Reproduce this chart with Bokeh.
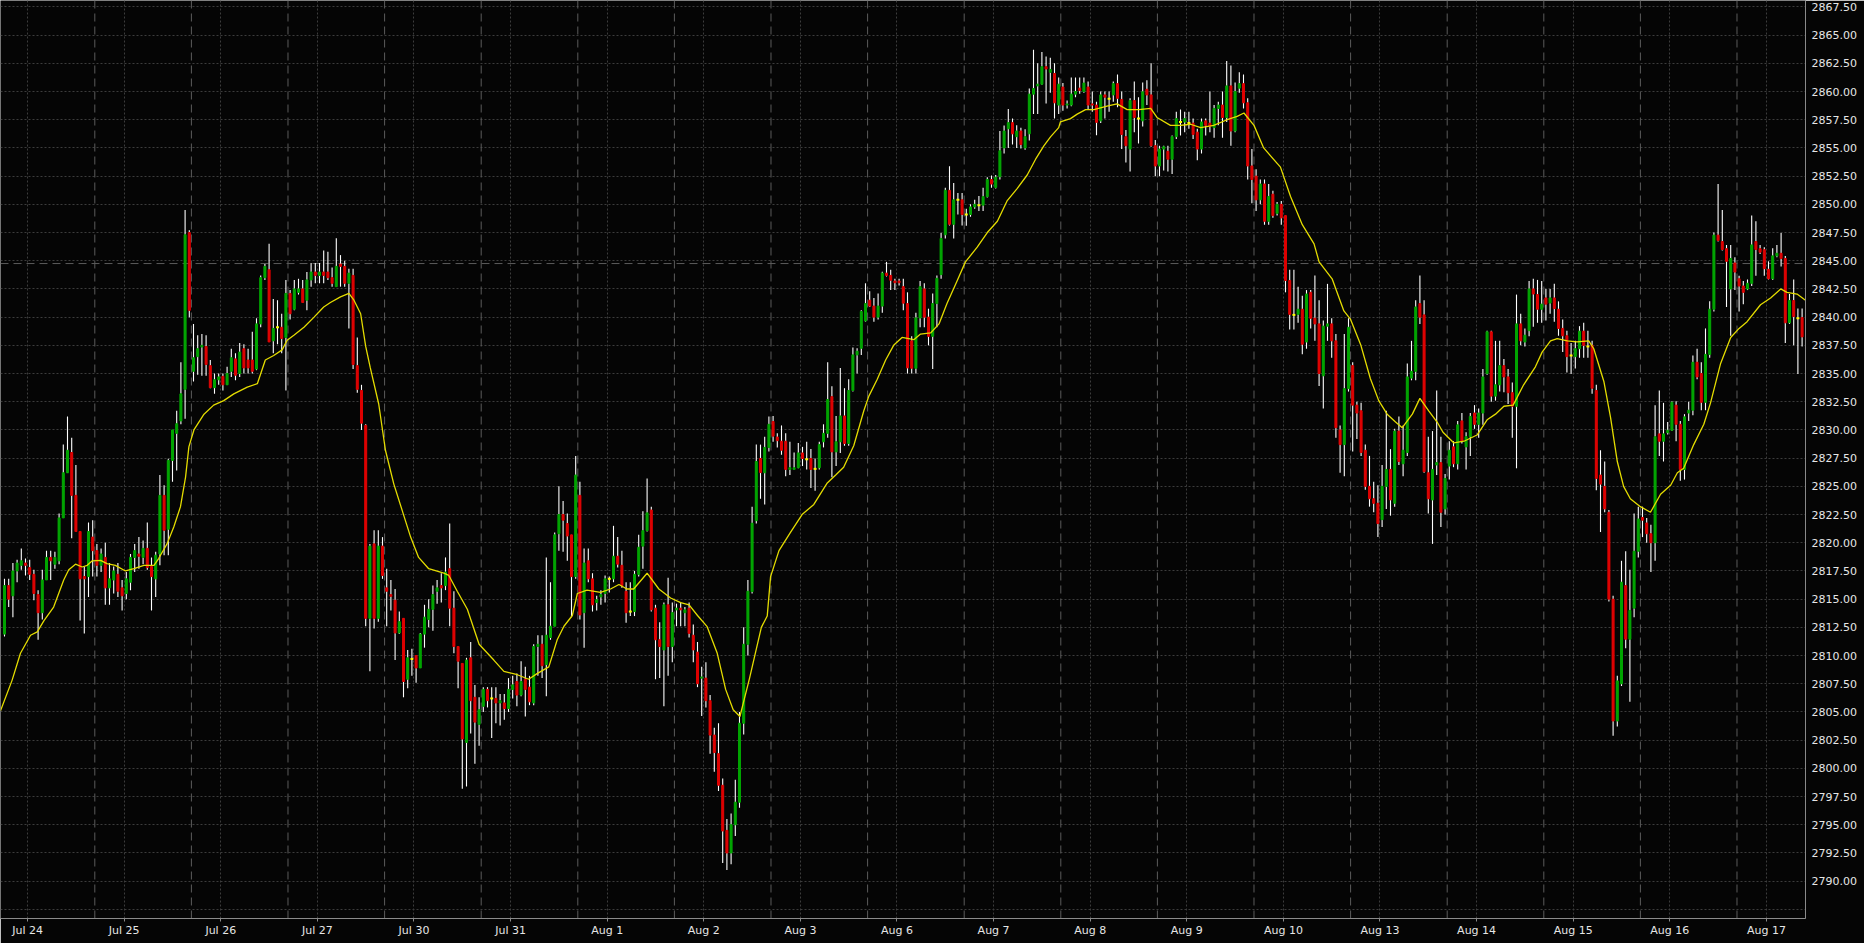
from bokeh.plotting import figure
from bokeh.models import FixedTicker, Span, ColumnDataSource, NumeralTickFormatter, Range1d
from bokeh.embed import file_html
from bokeh.resources import INLINE

# ---------------- data (hourly bars, 23 bars per session) ----------------
opens = [
2811.9,2816.2,2815.3,2817.5,2818.0,2818.2,2817.8,2817.2,2815.4,2813.8,
2816.7,2818.7,2818.1,2818.4,2822.2,2826.2,2828.0,2824.2,2821.0,2817.0,
2817.0,2820.5,2819.3,2818.0,2818.7,2816.0,2816.7,2817.2,2816.0,2815.5,
2816.5,2818.7,2819.0,2818.7,2819.5,2817.9,2816.8,2819.0,2824.2,2821.2,
2827.3,2829.7,2830.8,2833.6,2847.5,2835.2,2836.5,2837.35,2837.4,2835.7,
2833.75,2834.45,2834.75,2834.0,2835.2,2836.3,2835.0,2837.2,2836.2,2836.2,
2835.4,2839.4,2843.5,2844.2,2837.9,2839.1,2839.1,2838.2,2842.1,2840.7,
2842.2,2842.5,2841.5,2843.3,2844.0,2843.7,2844.0,2844.0,2843.5,2842.7,
2844.7,2844.5,2843.0,2843.7,2835.7,2833.5,2830.4,2813.3,2819.9,2813.3,
2819.7,2816.0,2815.4,2814.9,2812.0,2813.3,2807.9,2809.7,2810.0,2808.9,
2811.9,2813.2,2814.1,2815.7,2816.2,2816.2,2817.7,2814.2,2810.8,2809.3,
2802.3,2809.8,2806.3,2803.9,2805.5,2807.0,2806.2,2806.2,2805.8,2805.8,
2805.3,2807.0,2807.7,2806.5,2807.9,2807.2,2805.8,2810.8,2811.0,2809.2,
2811.6,2812.6,2820.8,2822.5,2821.7,2820.7,2817.0,2824.2,2813.8,2818.4,
2816.8,2814.7,2815.2,2815.5,2816.8,2816.8,2818.8,2818.0,2815.7,2813.9,
2813.9,2817.2,2819.7,2821.07,2822.9,2814.2,2811.4,2810.5,2814.5,2810.8,
2814.05,2814.2,2813.8,2814.2,2811.8,2810.3,2808.0,2808.0,2806.0,2802.95,
2801.3,2798.5,2794.5,2792.5,2795.0,2797.0,2804.0,2811.0,2815.67,2821.96,
2827.47,2826.2,2828.45,2830.75,2829.37,2829.0,2829.0,2826.5,2826.5,2826.65,
2827.96,2827.4,2827.47,2826.55,2826.65,2828.95,2829.7,2832.95,2828.06,2828.95,
2831.24,2828.8,2833.5,2836.65,2837.24,2839.66,2841.5,2840.98,2840.0,2840.98,
2843.9,2843.7,2843.2,2843.2,2842.7,2841.2,2837.9,2835.47,2839.93,2842.5,
2840.0,2838.3,2841.2,2843.77,2847.3,2851.24,2848.23,2850.4,2850.4,2849.1,
2849.1,2849.77,2849.93,2849.93,2850.68,2852.2,2851.5,2852.45,2855.0,2856.7,
2857.24,2856.0,2856.5,2855.0,2856.25,2859.77,2860.5,2860.65,2862.2,2861.7,
2861.6,2858.8,2860.4,2858.8,2858.8,2859.77,2860.3,2860.0,2860.4,2858.9,
2858.8,2857.4,2859.7,2859.37,2859.7,2860.7,2859.3,2856.0,2854.9,2859.2,
2857.6,2857.4,2860.2,2859.7,2855.2,2853.4,2854.9,2854.7,2854.0,2856.0,
2857.3,2857.3,2857.2,2857.2,2856.4,2854.9,2857.4,2857.2,2856.8,2858.5,
2858.8,2857.7,2860.5,2856.5,2860.3,2860.7,2859.0,2853.4,2852.5,2850.4,
2851.8,2848.5,2850.9,2849.2,2850.0,2849.0,2843.25,2840.2,2840.25,2840.7,
2837.8,2842.2,2839.9,2839.4,2834.8,2839.2,2839.4,2837.9,2830.0,2828.7,
2833.66,2835.7,2832.2,2831.7,2828.2,2825.0,2823.9,2823.5,2822.05,2825.0,
2826.5,2823.5,2829.9,2827.0,2828.0,2834.6,2835.2,2841.2,2840.2,2826.2,
2823.8,2826.9,2827.1,2823.0,2826.8,2828.5,2827.0,2830.8,2828.5,2829.4,
2831.5,2830.5,2831.5,2835.0,2838.7,2833.0,2834.0,2835.7,2834.7,2833.3,
2832.1,2839.4,2837.8,2838.8,2842.5,2842.0,2840.7,2841.7,2841.25,2841.7,
2840.7,2839.0,2838.35,2836.6,2836.5,2837.2,2838.76,2837.4,2837.5,2833.5,
2826.0,2825.0,2822.7,2815.0,2804.2,2807.5,2816.2,2811.45,2814.2,2819.25,
2822.24,2821.75,2820.8,2820.0,2829.65,2829.0,2829.75,2829.97,2832.2,2830.5,
2826.5,2831.5,2831.75,2836.0,2835.0,2832.45,2836.7,2840.7,2847.27,2846.7,
2846.07,2842.5,2844.8,2843.4,2842.76,2842.5,2843.0,2846.7,2846.07,2845.98,
2844.24,2843.4,2845.43,2845.66,2845.2,2839.5,2841.47,2839.9,2839.96,
]
highs = [
2816.8,2816.8,2818.2,2818.5,2819.5,2818.6,2818.5,2817.6,2815.8,2817.6,
2819.3,2819.3,2819.2,2822.6,2828.7,2831.2,2829.3,2826.9,2821.0,2817.9,
2821.8,2822.0,2819.9,2819.5,2820.0,2818.2,2817.9,2818.2,2816.7,2817.4,
2819.0,2819.9,2820.5,2820.2,2821.8,2818.7,2819.2,2826.0,2825.1,2827.45,
2830.0,2831.7,2836.0,2849.5,2847.7,2839.4,2838.4,2838.5,2838.4,2836.2,
2835.0,2835.0,2835.0,2835.6,2837.2,2836.8,2837.7,2837.6,2837.2,2838.7,
2839.9,2843.7,2844.7,2846.5,2841.6,2841.5,2840.3,2843.3,2842.4,2843.3,
2843.4,2843.3,2844.0,2844.8,2844.8,2844.8,2845.9,2845.8,2844.4,2847.0,
2845.5,2845.0,2844.3,2844.3,2838.2,2834.0,2830.5,2819.9,2821.1,2821.1,
2820.5,2817.7,2816.7,2815.9,2813.9,2813.3,2810.5,2810.6,2810.0,2812.0,
2814.5,2815.0,2816.2,2816.7,2817.3,2818.7,2821.7,2815.7,2810.8,2809.3,
2809.8,2811.2,2807.4,2806.3,2807.2,2807.2,2807.2,2807.2,2806.6,2806.6,
2808.0,2808.2,2808.4,2809.5,2809.0,2808.2,2811.0,2811.8,2811.8,2818.7,
2816.5,2820.9,2825.0,2823.7,2822.6,2820.7,2827.7,2825.4,2819.5,2819.5,
2817.3,2815.3,2815.8,2817.1,2817.0,2821.5,2820.5,2819.3,2816.5,2816.5,
2817.5,2820.7,2822.8,2825.7,2823.2,2814.5,2812.95,2814.7,2816.9,2814.7,
2814.6,2814.7,2814.3,2814.7,2812.75,2811.2,2809.0,2809.4,2806.5,2803.6,
2804.0,2799.1,2795.5,2796.0,2799.0,2805.0,2812.5,2816.7,2823.2,2828.7,
2828.7,2829.4,2831.2,2831.24,2829.7,2830.4,2829.7,2828.95,2828.0,2828.85,
2828.5,2828.95,2828.3,2827.47,2828.95,2830.5,2836.0,2833.87,2831.24,2835.5,
2833.7,2834.5,2837.3,2837.24,2840.6,2843.0,2842.3,2841.7,2842.1,2844.03,
2844.9,2844.2,2843.4,2843.4,2843.4,2842.2,2838.3,2840.4,2843.2,2843.0,
2840.75,2842.1,2843.7,2847.47,2851.47,2853.37,2851.9,2851.0,2851.0,2849.6,
2850.0,2850.4,2850.75,2851.47,2852.4,2852.55,2852.6,2856.5,2856.98,2858.46,
2857.6,2857.0,2856.8,2856.65,2860.26,2863.7,2862.5,2863.5,2863.1,2863.0,
2862.5,2861.24,2860.75,2859.2,2861.24,2861.24,2861.24,2861.24,2860.9,2860.0,
2859.1,2860.0,2860.0,2860.0,2860.9,2861.5,2860.0,2856.6,2859.4,2860.9,
2859.5,2860.8,2861.0,2862.5,2855.7,2855.2,2855.2,2855.2,2856.1,2858.2,
2858.4,2858.2,2858.2,2857.6,2856.7,2857.6,2857.6,2860.0,2858.8,2859.1,
2860.0,2862.7,2862.3,2860.8,2861.7,2861.5,2859.4,2854.9,2853.1,2852.2,
2852.2,2851.8,2851.2,2850.2,2850.3,2849.0,2844.2,2844.2,2842.7,2841.9,
2842.4,2842.4,2843.7,2841.5,2839.7,2842.95,2839.9,2838.5,2830.4,2838.5,
2839.9,2836.0,2832.5,2832.4,2828.7,2827.7,2825.4,2825.1,2826.9,2831.7,
2828.3,2830.1,2831.2,2830.4,2835.9,2837.9,2841.5,2843.7,2841.5,2829.4,
2829.9,2833.5,2829.4,2826.1,2829.0,2829.0,2830.8,2831.5,2829.8,2831.5,
2832.2,2831.9,2835.4,2838.8,2838.8,2837.9,2837.9,2836.3,2835.4,2834.2,
2842.0,2840.3,2839.0,2843.2,2843.4,2843.3,2843.2,2842.5,2842.5,2842.95,
2841.4,2839.8,2838.8,2837.7,2837.9,2839.2,2839.5,2838.8,2837.9,2834.0,
2828.2,2827.2,2822.9,2815.3,2808.2,2818.4,2819.25,2817.6,2822.6,2823.2,
2823.2,2822.2,2821.6,2832.2,2833.5,2832.4,2830.7,2832.55,2832.55,2830.8,
2831.4,2832.5,2836.6,2837.2,2836.0,2839.0,2841.4,2847.5,2851.8,2849.5,
2846.4,2846.4,2845.3,2843.66,2843.2,2843.34,2849.0,2848.5,2846.4,2846.2,
2844.95,2846.1,2846.4,2847.46,2845.43,2842.05,2843.34,2840.76,2840.76,
]
lows = [
2811.7,2814.3,2813.4,2816.5,2817.6,2817.1,2816.7,2814.9,2811.4,2813.2,
2816.7,2816.7,2817.7,2818.1,2822.2,2826.2,2820.4,2821.0,2813.1,2811.95,
2815.2,2817.0,2817.0,2817.4,2814.5,2814.5,2815.5,2815.2,2814.0,2815.0,
2815.8,2817.4,2817.7,2818.1,2817.6,2814.0,2815.2,2818.0,2818.9,2818.9,
2825.4,2826.4,2830.5,2831.0,2840.0,2834.3,2834.9,2834.8,2834.8,2833.7,
2833.2,2834.0,2833.5,2834.0,2834.7,2834.4,2834.7,2835.0,2835.0,2835.0,
2835.3,2839.1,2843.3,2837.8,2836.8,2837.6,2836.8,2833.5,2839.8,2840.6,
2842.0,2841.3,2840.6,2842.7,2843.0,2843.0,2843.0,2843.3,2842.7,2842.7,
2842.7,2842.7,2839.0,2835.4,2833.3,2830.0,2812.6,2808.6,2812.4,2813.0,
2816.8,2812.6,2814.0,2809.6,2811.9,2806.3,2807.1,2808.2,2807.6,2808.9,
2810.7,2812.5,2812.2,2814.6,2814.7,2815.8,2812.6,2810.2,2807.1,2798.2,
2798.4,2803.1,2800.4,2802.0,2805.0,2805.4,2802.7,2804.0,2803.8,2804.3,
2805.0,2806.2,2805.5,2806.4,2804.6,2805.6,2805.6,2808.2,2808.0,2806.4,
2811.4,2812.6,2819.3,2819.2,2818.4,2813.4,2816.8,2813.2,2810.7,2816.5,
2813.9,2814.0,2814.5,2814.7,2815.6,2816.5,2817.8,2816.0,2812.9,2813.5,
2813.5,2817.0,2817.7,2821.0,2813.9,2807.9,2808.0,2805.5,2808.2,2809.4,
2812.6,2812.6,2812.6,2811.6,2809.4,2807.2,2804.65,2805.4,2801.3,2799.7,
2798.0,2791.6,2791.0,2791.5,2794.0,2796.5,2803.0,2810.0,2815.5,2821.7,
2823.9,2823.4,2828.1,2828.95,2828.45,2827.8,2825.9,2826.0,2826.5,2826.6,
2826.8,2826.5,2824.85,2824.6,2826.5,2828.45,2829.3,2825.8,2826.8,2827.96,
2828.6,2828.6,2833.4,2835.0,2836.65,2839.6,2840.9,2839.6,2839.8,2840.4,
2843.6,2842.4,2842.4,2842.8,2840.6,2835.0,2835.0,2835.0,2839.1,2839.1,
2837.5,2835.4,2839.1,2843.4,2846.98,2848.13,2846.98,2849.1,2848.13,2848.1,
2848.9,2849.6,2849.4,2849.4,2850.6,2851.47,2851.4,2852.2,2854.5,2855.0,
2855.3,2855.0,2854.95,2854.85,2855.67,2858.0,2858.0,2860.6,2858.95,2859.9,
2857.6,2858.0,2858.3,2858.5,2858.7,2859.5,2859.8,2859.9,2858.4,2858.2,
2856.13,2857.2,2857.6,2858.2,2859.1,2858.6,2854.9,2853.7,2852.9,2856.4,
2855.4,2856.9,2858.8,2855.1,2852.5,2852.5,2853.0,2852.9,2852.7,2855.8,
2856.1,2856.4,2856.7,2855.8,2853.9,2854.5,2856.1,2856.4,2855.9,2857.0,
2855.9,2857.3,2855.2,2856.4,2859.9,2858.5,2852.2,2850.1,2849.4,2850.0,
2848.2,2848.2,2848.8,2849.0,2848.2,2842.2,2838.9,2838.9,2839.5,2836.7,
2837.2,2839.0,2837.9,2833.9,2831.9,2837.9,2836.4,2829.3,2826.2,2825.9,
2833.4,2828.1,2829.2,2827.7,2824.7,2823.2,2822.7,2820.5,2821.4,2823.0,
2822.4,2823.2,2826.9,2825.9,2827.7,2834.4,2834.4,2839.4,2826.2,2822.6,
2819.9,2826.0,2821.4,2822.5,2825.6,2826.7,2826.5,2828.8,2826.5,2827.7,
2830.1,2829.3,2830.45,2834.9,2832.5,2832.6,2833.4,2833.35,2832.3,2829.3,
2826.6,2837.5,2837.4,2838.3,2839.15,2839.5,2839.5,2839.7,2840.3,2839.6,
2838.35,2836.9,2835.1,2834.96,2835.45,2836.4,2836.4,2836.4,2833.2,2824.66,
2820.95,2822.7,2814.8,2802.9,2803.7,2807.3,2810.65,2805.9,2813.4,2818.7,
2820.5,2820.0,2817.4,2818.4,2827.7,2827.2,2829.6,2829.9,2829.0,2825.5,
2825.6,2830.8,2831.3,2834.5,2831.75,2831.75,2836.4,2840.5,2846.7,2845.9,
2840.9,2838.35,2842.4,2840.5,2841.15,2842.4,2842.76,2843.66,2845.6,2843.66,
2843.34,2843.3,2845.3,2844.5,2837.7,2839.4,2837.5,2834.96,2837.4,
]
closes = [
2816.2,2815.0,2817.5,2818.2,2818.4,2818.0,2817.2,2815.5,2813.8,2816.7,
2818.7,2818.4,2818.7,2822.2,2826.2,2828.2,2824.2,2821.0,2816.8,2816.8,
2821.0,2819.3,2818.0,2819.0,2816.0,2816.8,2817.5,2815.7,2815.3,2816.8,
2818.7,2819.3,2818.8,2819.5,2817.8,2817.0,2818.9,2824.2,2821.1,2827.3,
2830.0,2830.55,2833.2,2847.3,2840.6,2836.4,2837.2,2837.5,2835.8,2833.75,
2834.45,2834.7,2834.0,2835.0,2836.4,2834.85,2836.9,2835.5,2835.5,2835.2,
2839.4,2843.5,2844.5,2837.8,2839.0,2839.1,2838.1,2842.1,2840.3,2842.5,
2842.5,2841.3,2843.3,2844.0,2843.7,2844.0,2843.7,2843.5,2843.0,2844.5,
2844.5,2843.0,2843.9,2835.8,2833.6,2830.6,2813.3,2819.7,2813.3,2819.7,
2817.1,2815.7,2815.25,2812.0,2813.0,2807.7,2809.8,2809.7,2808.9,2811.9,
2813.4,2814.1,2815.4,2816.0,2816.0,2817.4,2814.2,2810.8,2809.5,2802.6,
2809.6,2806.0,2804.1,2805.2,2807.0,2806.0,2806.2,2805.8,2806.0,2805.3,
2807.0,2807.4,2806.5,2807.7,2807.0,2805.9,2810.8,2811.0,2809.1,2811.8,
2812.6,2820.7,2822.5,2822.0,2820.6,2817.0,2826.0,2813.6,2818.2,2816.8,
2814.5,2814.95,2815.4,2816.8,2816.8,2818.8,2818.1,2816.2,2813.8,2813.9,
2817.2,2819.6,2821.07,2822.65,2814.05,2811.4,2810.8,2814.5,2810.8,2813.8,
2814.2,2814.05,2814.05,2811.97,2810.5,2807.5,2808.1,2806.0,2802.95,2801.4,
2798.5,2794.45,2792.5,2795.0,2797.0,2804.0,2811.0,2815.7,2821.73,2827.2,
2826.22,2828.45,2830.5,2829.45,2829.05,2828.2,2826.5,2826.65,2826.65,2827.96,
2827.47,2827.4,2826.5,2826.55,2828.7,2829.7,2832.7,2828.06,2828.95,2831.24,
2828.8,2833.5,2836.65,2836.98,2840.5,2841.2,2840.98,2840.0,2840.98,2843.9,
2843.7,2843.27,2843.05,2843.05,2841.24,2835.5,2835.47,2839.93,2842.7,2840.0,
2838.3,2841.2,2843.44,2846.98,2851.24,2848.23,2850.4,2850.4,2849.1,2849.1,
2849.77,2850.0,2849.93,2850.68,2852.2,2851.8,2852.4,2854.75,2856.5,2857.24,
2856.25,2856.5,2855.3,2856.0,2859.77,2860.26,2860.65,2862.2,2862.0,2861.96,
2859.0,2860.65,2858.8,2858.9,2859.77,2860.0,2860.1,2860.75,2858.8,2858.8,
2857.27,2859.7,2859.5,2859.37,2860.7,2859.4,2856.2,2855.2,2859.2,2857.7,
2857.6,2859.97,2859.7,2855.2,2853.4,2854.9,2855.1,2854.0,2856.0,2857.6,
2857.3,2857.6,2857.2,2856.2,2854.9,2857.3,2857.0,2856.9,2858.5,2858.8,
2857.7,2860.5,2856.5,2860.0,2860.7,2859.0,2853.4,2852.2,2850.4,2851.8,
2848.5,2850.7,2849.0,2850.0,2848.8,2843.25,2840.25,2840.2,2840.7,2837.6,
2842.05,2839.9,2839.4,2835.0,2839.2,2839.4,2837.9,2830.2,2828.7,2833.66,
2839.1,2832.2,2831.5,2828.0,2825.0,2823.9,2823.5,2821.7,2825.0,2826.5,
2823.8,2829.9,2827.2,2828.2,2834.7,2835.2,2840.9,2840.0,2826.3,2823.9,
2826.5,2827.1,2822.7,2825.7,2828.2,2827.0,2830.45,2829.0,2829.4,2831.2,
2830.5,2831.5,2834.7,2838.7,2833.0,2834.0,2835.7,2834.7,2833.3,2832.1,
2839.4,2837.9,2838.4,2842.5,2842.05,2840.7,2841.15,2841.15,2841.7,2840.76,
2839.0,2838.35,2836.5,2836.6,2837.2,2838.76,2837.5,2837.4,2833.7,2825.7,
2825.2,2823.0,2815.0,2804.2,2807.75,2816.5,2811.45,2814.0,2819.25,2822.1,
2822.0,2820.8,2820.0,2829.4,2829.0,2829.65,2829.97,2832.45,2830.5,2826.5,
2831.16,2831.75,2836.0,2834.7,2832.45,2836.7,2840.7,2847.27,2846.8,2846.0,
2844.95,2845.2,2844.0,2842.76,2842.2,2843.0,2846.4,2846.0,2845.75,2844.3,
2843.4,2845.43,2845.66,2845.2,2839.5,2841.47,2840.05,2839.9,2838.25,
]

# moving average (bar position, value)
ma_pos = [
-0.95,1.8,3.8,6.2,7.8,9.4,11.7,14.1,15.3,16.9,18.5,19.7,20.9,22.9,24.4,26.4,28.8,30.8,
33.2,35.6,36.7,38.7,40.3,41.9,43.1,43.9,45.1,47.5,49.8,52.2,54.6,57.8,60.2,62.1,64.1,
66.1,67.3,68.9,71.3,73.7,76.0,77.6,80.0,82.0,83.2,84.8,86.0,87.1,89.1,90.7,92.7,94.7,
96.7,98.6,101.0,104.6,105.8,107.8,110.2,113.0,116.5,118.9,122.1,124.8,126.8,129.6,
131.6,133.2,135.2,136.4,138.7,141.9,144.3,146.3,148.2,149.8,153.0,155.8,158.6,161.0,
163.0,165.0,167.3,169.7,171.7,173.5,175.1,177.4,180.2,181.6,182.4,184.4,187.1,189.9,
192.7,195.9,197.9,199.8,202.2,204.6,205.8,207.8,209.8,211.7,213.7,215.3,216.5,218.1,
220.5,222.5,224.4,226.8,228.8,231.6,234.0,236.4,238.7,241.1,243.5,245.5,247.5,249.1,
251.0,251.4,253.8,255.4,257.4,259.4,262.5,264.9,267.3,270.1,272.9,274.4,277.6,280.0,
282.4,284.8,287.9,291.1,293.5,295.1,297.5,299.8,303.8,306.2,309.0,311.8,313.0,316.1,
318.9,320.5,322.9,325.2,327.2,329.2,331.2,332.8,335.2,337.0,339.1,341.1,342.5,345.1,
347.5,350.6,353.0,355.0,357.0,359.2,361.7,364.5,366.1,368.1,369.7,372.1,374.4,377.2,
378.4,380.8,382.4,384.0,385.5,387.1,389.5,391.9,394.3,396.7,398.3,399.8,402.2,404.6,
406.2,408.6,411.0,413.0,414.9,418.1,420.5,422.9,424.4,426.8,428.8,
]
ma_val = [
2805.1,2807.8,2810.2,2811.8,2812.1,2813.1,2814.3,2816.7,2817.6,2818.1,2817.85,2818.0,
2818.4,2818.44,2818.15,2818.0,2817.5,2817.7,2818.0,2818.0,2818.6,2819.9,2821.4,2823.2,
2825.8,2828.5,2830.0,2831.4,2832.2,2832.6,2833.2,2833.8,2834.1,2836.2,2836.6,2837.1,
2837.95,2838.4,2839.1,2840.0,2840.9,2841.3,2841.8,2842.1,2841.5,2840.3,2837.4,2835.5,
2832.3,2828.2,2825.2,2822.85,2820.5,2818.7,2817.7,2817.3,2817.1,2815.7,2814.1,2811.0,
2809.6,2808.6,2808.3,2807.9,2808.4,2809.0,2811.4,2812.6,2813.55,2815.5,2815.8,2815.6,
2815.9,2816.3,2815.9,2815.9,2817.3,2815.9,2815.1,2814.7,2814.5,2813.55,2812.56,2810.2,
2807.0,2805.2,2804.6,2808.0,2812.5,2813.5,2817.0,2819.3,2820.9,2822.5,2823.4,2825.3,
2826.0,2826.7,2828.6,2831.7,2833.0,2834.5,2836.2,2837.5,2838.2,2838.1,2838.0,2838.5,
2838.6,2839.4,2841.2,2843.2,2844.9,2846.2,2847.5,2848.5,2850.3,2851.4,2852.6,2854.0,
2855.2,2856.0,2856.8,2857.3,2857.6,2858.0,2858.4,2858.4,2858.7,2858.9,2858.4,2858.4,
2858.5,2857.7,2857.0,2857.0,2857.1,2856.8,2857.0,2857.5,2857.8,2858.1,2857.0,2855.0,
2853.3,2850.7,2848.2,2846.5,2844.9,2843.4,2840.55,2839.8,2837.56,2834.56,2832.6,2831.4,
2830.7,2830.2,2831.4,2832.8,2831.7,2830.7,2829.8,2828.85,2829.0,2829.55,2830.9,2831.4,
2832.1,2832.2,2834.0,2835.6,2836.9,2837.9,2838.1,2837.9,2837.8,2837.9,2837.2,2834.3,
2831.1,2827.2,2825.0,2823.9,2823.2,2822.7,2824.3,2825.1,2826.2,2826.6,2828.7,2830.5,
2832.4,2835.9,2838.2,2839.0,2839.6,2841.1,2841.7,2842.5,2842.2,2842.05,2841.5,
]

day_labels = ["Jul 24", "Jul 25", "Jul 26", "Jul 27", "Jul 30", "Jul 31", "Aug 1", "Aug 2",
              "Aug 3", "Aug 6", "Aug 7", "Aug 8", "Aug 9", "Aug 10", "Aug 13", "Aug 14",
              "Aug 15", "Aug 16", "Aug 17"]
price_line = 2844.75

BARS_PER_SESSION = 23
FIRST_LABEL_BAR = 5.5
FIRST_SESSION_BREAK = 21.5

# ---------------- figure ----------------
BG = "#050505"
FRAME_W, FRAME_H = 1805, 918
p = figure(frame_width=FRAME_W, frame_height=FRAME_H,
           x_range=Range1d(-0.952, 428.81), y_range=Range1d(2786.69, 2868.07),
           output_backend="svg", toolbar_location=None, y_axis_location="right",
           background_fill_color=BG, border_fill_color=BG,
           min_border_left=0, min_border_top=0, min_border_right=59, min_border_bottom=25)
p.outline_line_color = None

label_pos = [FIRST_LABEL_BAR + BARS_PER_SESSION * k for k in range(len(day_labels))]
breaks = [FIRST_SESSION_BREAK + BARS_PER_SESSION * k for k in range(18)]
grid_levels = [2787.5 + 2.5 * k for k in range(33)]
label_levels = [v for v in grid_levels if v >= 2790]

# grids (dotted)
p.xgrid.ticker = FixedTicker(ticks=label_pos)
p.ygrid.ticker = FixedTicker(ticks=grid_levels)
for g in (p.xgrid, p.ygrid):
    g.grid_line_color = "#3c3c3c"
    g.grid_line_dash = "2 2"
    g.grid_line_width = 1

# session separators (dashed)
for b in breaks:
    p.add_layout(Span(location=b, dimension="height", line_color="#5c5c5c",
                      line_dash="8 5", line_width=1, level="underlay"))
p.add_layout(Span(location=price_line, dimension="width", line_color="#5c5c5c",
                  line_dash="8 5", line_width=1, level="underlay"))
# left frame edge
p.add_layout(Span(location=-0.952, dimension="height", line_color="#6a6a6a", line_width=1))

# axes
xa = p.xaxis[0]
xa.ticker = FixedTicker(ticks=label_pos)
xa.major_label_overrides = {float(t): l for t, l in zip(label_pos, day_labels)}
ya = p.yaxis[0]
ya.ticker = FixedTicker(ticks=label_levels)
ya.formatter = NumeralTickFormatter(format="0.00")
for ax in (xa, ya):
    ax.axis_line_color = "#8a8a8a"
    ax.major_tick_line_color = "#8a8a8a"
    ax.minor_tick_line_color = None
    ax.major_tick_in = 0
    ax.major_label_text_font = "DejaVu Sans"
    ax.major_label_text_font_size = "11px"
    ax.major_label_text_color = "#e6e6e6"
xa.major_tick_out = 3
xa.major_label_standoff = 2
ya.major_tick_out = 0
ya.major_label_standoff = 6

# ---------------- candles ----------------
n = len(closes)
idx = list(range(n))
src_all = ColumnDataSource(dict(x=idx, h=highs, l=lows))
p.segment(x0="x", y0="l", x1="x", y1="h", source=src_all, line_color="#ffffff", line_width=1.1)

def subset(cond):
    xs = [i for i in idx if cond(i)]
    return ColumnDataSource(dict(
        x=xs,
        top=[max(opens[i], closes[i]) for i in xs],
        bottom=[min(opens[i], closes[i]) for i in xs],
        mid=[closes[i] for i in xs]))

up = subset(lambda i: closes[i] > opens[i])
dn = subset(lambda i: closes[i] < opens[i])
dj = subset(lambda i: closes[i] == opens[i])

p.vbar(x="x", width=0.48, top="top", bottom="bottom", source=up,
       fill_color="#00a400", line_color="#00a400", line_width=1)
p.vbar(x="x", width=0.48, top="top", bottom="bottom", source=dn,
       fill_color="#de0000", line_color="#de0000", line_width=1)
p.rect(x="x", y="mid", width=0.7, height=2, height_units="screen", source=dj,
       fill_color="#ffff00", line_color=None)

# moving average
p.line(ma_pos, ma_val, line_color="#e4dc00", line_width=1.3)

open("out.html", "w").write(file_html(p, INLINE))
